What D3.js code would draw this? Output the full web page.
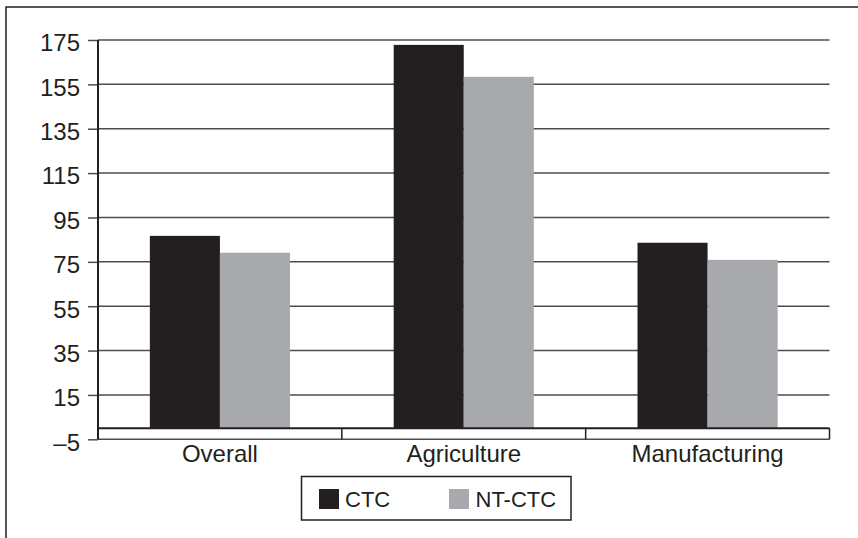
<!DOCTYPE html>
<html>
<head>
<meta charset="utf-8">
<script src="https://cdn.jsdelivr.net/npm/d3@7"></script>
<style>
  html, body { margin: 0; padding: 0; background: #fff; }
  svg { display: block; font-family: "Liberation Sans", Arial, Helvetica, sans-serif; }
</style>
</head>
<body>
<svg id="chart" width="858" height="538"></svg>
<script>
// Sectors and the two firm groups compared
const categories = ["Overall", "Agriculture", "Manufacturing"];
const seriesNames = ["CTC", "NT-CTC"];
const ctcValues = [86.7, 172.8, 83.6];
const ntCtcValues = [79.1, 158.4, 75.9];
const yTicks = [-5, 15, 35, 55, 75, 95, 115, 135, 155, 175];

const colors = { "CTC": "#231f20", "NT-CTC": "#a7a9ac" };
const ink = "#231f20";

const svg = d3.select("#chart");

// Outer frame
svg.append("rect")
  .attr("x", 6).attr("y", 7)
  .attr("width", 870).attr("height", 560)
  .attr("fill", "none").attr("stroke", ink).attr("stroke-width", 1.5);

const plot = { left: 98, right: 829.5, top: 40, bottom: 439.3 };

const y = d3.scaleLinear().domain([-5, 175]).range([plot.bottom, plot.top]);
const x0 = d3.scaleBand().domain(categories).range([plot.left, plot.right]).paddingInner(0).paddingOuter(0);
const x1 = d3.scaleBand().domain(seriesNames).range([0, x0.bandwidth()]).paddingInner(0).paddingOuter(0.74);

const rows = categories.map((c, i) => ({ category: c, values: [
  { key: "CTC", value: ctcValues[i] },
  { key: "NT-CTC", value: ntCtcValues[i] }
]}));

// Horizontal gridlines at each tick
svg.append("g").selectAll("line").data(yTicks).join("line")
  .attr("x1", plot.left).attr("x2", plot.right)
  .attr("y1", d => y(d)).attr("y2", d => y(d))
  .attr("stroke", "#4d4d4d").attr("stroke-width", 1.5);

// Bars
svg.append("g").selectAll("g").data(rows).join("g")
  .attr("transform", d => `translate(${x0(d.category)},0)`)
  .selectAll("rect").data(d => d.values).join("rect")
  .attr("x", d => x1(d.key))
  .attr("width", x1.bandwidth())
  .attr("y", d => y(d.value))
  .attr("height", d => y(0) - y(d.value))
  .attr("fill", d => colors[d.key]);

// Y axis with outward ticks
const fmt = d => d < 0 ? "\u2013" + Math.abs(d) : String(d);
const yAxis = d3.axisLeft(y).tickValues(yTicks).tickFormat(fmt).tickSize(10).tickPadding(8);
const gy = svg.append("g").attr("transform", `translate(${plot.left},0)`).call(yAxis);
gy.select(".domain").remove();
gy.selectAll(".tick line").attr("stroke", "#4d4d4d").attr("stroke-width", 1.5);
gy.selectAll(".tick text")
  .attr("fill", ink).attr("font-size", 24).attr("dy", "0.45em")
  .attr("font-family", "'Liberation Sans', Arial, sans-serif");
svg.append("line")
  .attr("x1", plot.left).attr("x2", plot.left)
  .attr("y1", plot.top).attr("y2", plot.bottom)
  .attr("stroke", ink).attr("stroke-width", 2);

// Baseline at zero
svg.append("line")
  .attr("x1", plot.left).attr("x2", plot.right)
  .attr("y1", y(0)).attr("y2", y(0))
  .attr("stroke", ink).attr("stroke-width", 2);

// Category separators between the zero line and the bottom gridline
const bounds = categories.map(c => x0(c) + x0.bandwidth());
svg.append("g").selectAll("line").data(bounds).join("line")
  .attr("x1", d => d).attr("x2", d => d)
  .attr("y1", y(0)).attr("y2", y(-5))
  .attr("stroke", ink).attr("stroke-width", 1.5);

// Category labels
svg.append("g").selectAll("text").data(categories).join("text")
  .attr("x", d => x0(d) + x0.bandwidth() / 2)
  .attr("y", 462)
  .attr("text-anchor", "middle")
  .attr("font-size", 24)
  .attr("fill", ink)
  .text(d => d);

// Legend
const legend = svg.append("g");
legend.append("rect")
  .attr("x", 301.5).attr("y", 476.5).attr("width", 269.5).attr("height", 43.5)
  .attr("fill", "none").attr("stroke", ink).attr("stroke-width", 1.5);
const legendPos = [{ key: "CTC", sx: 319, tx: 345 }, { key: "NT-CTC", sx: 449, tx: 475.5 }];
legend.selectAll("rect.sw").data(legendPos).join("rect")
  .attr("class", "sw")
  .attr("x", d => d.sx).attr("y", 489).attr("width", 20).attr("height", 20)
  .attr("fill", d => colors[d.key]);
legend.selectAll("text").data(legendPos).join("text")
  .attr("x", d => d.tx).attr("y", 507)
  .attr("font-size", 22).attr("fill", ink)
  .text(d => d.key);
</script>
</body>
</html>
